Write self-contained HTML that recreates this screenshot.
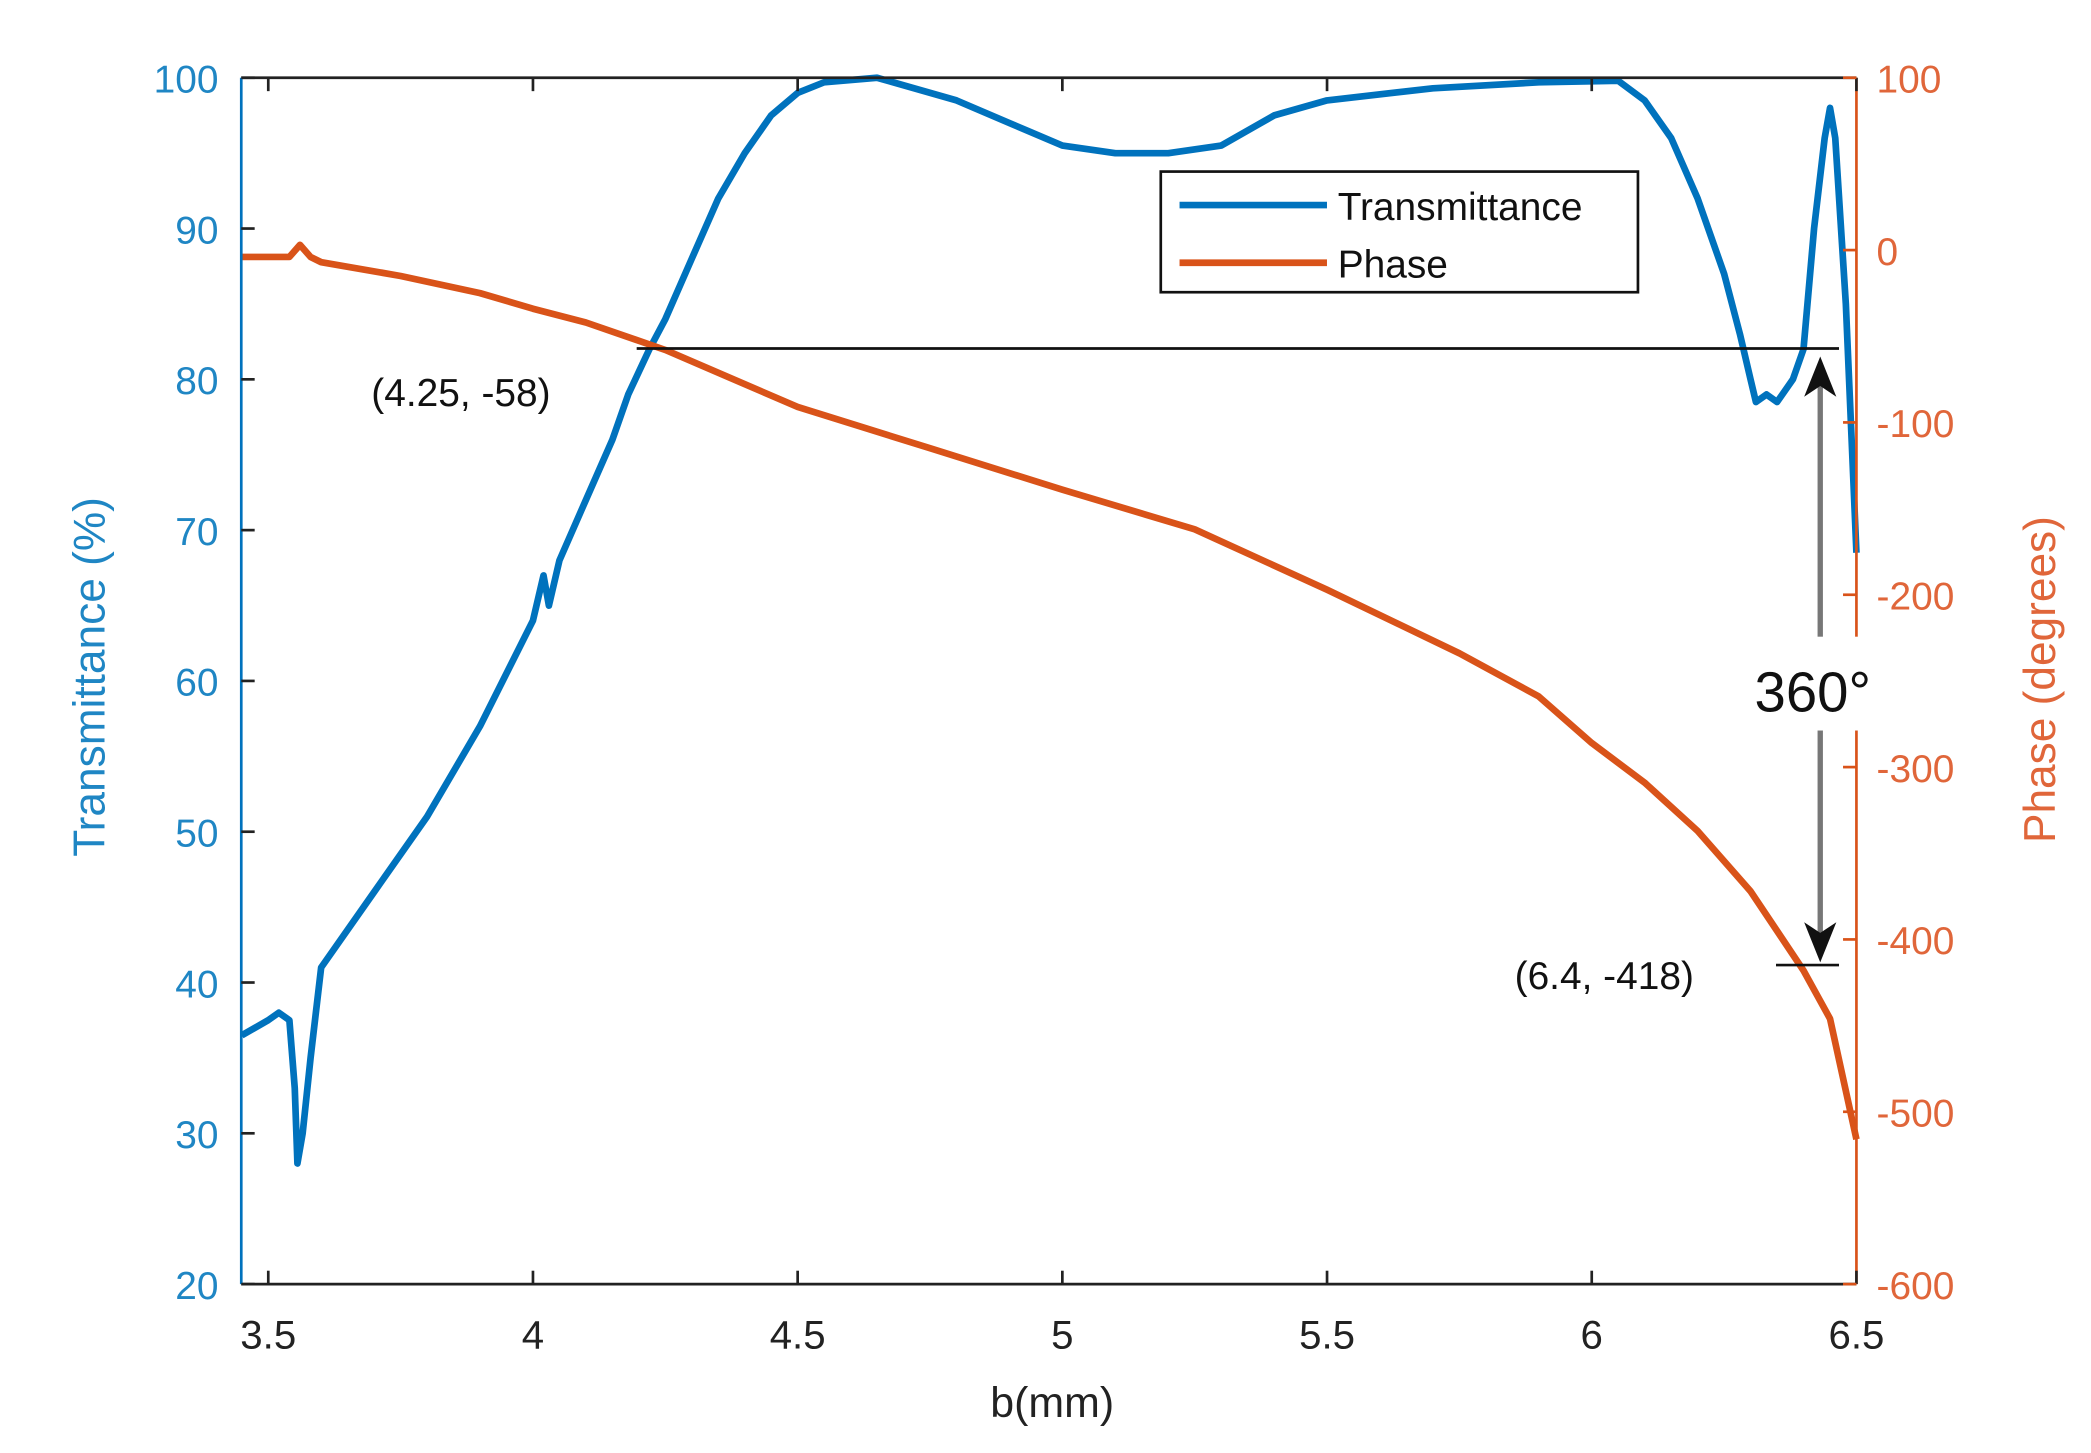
<!DOCTYPE html>
<html><head><meta charset="utf-8"><style>
html,body{margin:0;padding:0;background:#fff;}
svg{display:block;font-family:"Liberation Sans",sans-serif;}
</style></head><body>
<svg id="chart" width="2091" height="1453" viewBox="0 0 1560 1084" preserveAspectRatio="none" xmlns="http://www.w3.org/2000/svg">
<g id="g"></g>
</svg>
<script>
const xTicks=[3.5,4,4.5,5,5.5,6,6.5];
const xTickLabels=["3.5","4","4.5","5","5.5","6","6.5"];
const yLeftTicks=[20,30,40,50,60,70,80,90,100];
const yRightTicks=[-600,-500,-400,-300,-200,-100,0,100];
const transX=[3.45,3.5,3.52,3.54,3.55,3.555,3.565,3.58,3.6,3.7,3.8,3.9,4.0,4.02,4.03,4.05,4.1,4.15,4.18,4.2,4.22,4.25,4.3,4.35,4.4,4.45,4.5,4.55,4.65,4.8,4.9,5.0,5.1,5.2,5.3,5.4,5.5,5.7,5.9,6.05,6.1,6.15,6.2,6.25,6.28,6.3,6.31,6.33,6.35,6.38,6.4,6.42,6.44,6.45,6.46,6.48,6.5];
const transY=[36.5,37.5,38,37.5,33,28,30,35,41,46,51,57,64,67,65,68,72,76,79,80.5,82,84,88,92,95,97.5,99,99.7,100,98.5,97,95.5,95,95,95.5,97.5,98.5,99.3,99.7,99.8,98.5,96,92,87,83,80,78.5,79,78.5,80,82,90,96,98,96,85,68.5];
const phaseX=[3.45,3.54,3.56,3.58,3.6,3.75,3.9,4.0,4.1,4.25,4.5,4.75,5.0,5.25,5.5,5.75,5.9,6.0,6.1,6.2,6.3,6.4,6.45,6.5];
const phaseY=[-4,-4,3,-4,-7,-15,-25,-34,-42,-58,-91,-115,-139,-162,-197,-234,-259,-286,-309,-337,-372,-418,-446,-516];

const L=180,R=1385,T=58,B=958,XMIN=3.449,XMAX=6.5;
const sx=v=>L+(v-XMIN)/(XMAX-XMIN)*(R-L);
const syL=v=>B-(v-20)/80*(B-T);
const syR=v=>B-(v+600)/700*(B-T);
const NS="http://www.w3.org/2000/svg";
const g=document.getElementById('g');
function el(tag,attrs,text){const e=document.createElementNS(NS,tag);for(const k in attrs)e.setAttribute(k,attrs[k]);if(text!==undefined)e.textContent=text;g.appendChild(e);return e;}
const BLUE="#0072BD",ORANGE="#D95319",BLUET="#1f86c4",ORT="#e0663a";

let d=transX.map((x,i)=>(i?'L':'M')+sx(x).toFixed(1)+','+syL(transY[i]).toFixed(1)).join('');
let p=el('path',{d:d,fill:'none',stroke:BLUE,'stroke-width':5,'stroke-linejoin':'round'});


d=phaseX.map((x,i)=>(i?'L':'M')+sx(x).toFixed(1)+','+syR(phaseY[i]).toFixed(1)).join('');
p=el('path',{d:d,fill:'none',stroke:ORANGE,'stroke-width':5,'stroke-linejoin':'round'});



let a=el('line',{x1:L,y1:T,x2:R,y2:T,stroke:'#222','stroke-width':2});


a=el('line',{x1:L,y1:B,x2:R,y2:B,stroke:'#222','stroke-width':2});


a=el('line',{x1:L,y1:T,x2:L,y2:B,stroke:BLUE,'stroke-width':2});


a=el('line',{x1:R,y1:T,x2:R,y2:B,stroke:ORANGE,'stroke-width':2});



xTicks.forEach((v,i)=>{
  const x=sx(v);
  el('line',{x1:x,y1:B,x2:x,y2:B-10,stroke:'#222','stroke-width':2});
  el('line',{x1:x,y1:T,x2:x,y2:T+10,stroke:'#222','stroke-width':2});
  const t=el('text',{x:x,y:1006,'font-size':30,'text-anchor':'middle',fill:'#222'},xTickLabels[i]);
  
  
});
yLeftTicks.forEach(v=>{
  const y=syL(v);
  el('line',{x1:L,y1:y,x2:L+10,y2:y,stroke:'#222','stroke-width':2});
  const t=el('text',{x:163,y:y+11,'font-size':29,'text-anchor':'end',fill:BLUET},String(v));
  
  
});
yRightTicks.forEach(v=>{
  const y=syR(v);
  el('line',{x1:R,y1:y,x2:R-10,y2:y,stroke:ORANGE,'stroke-width':2});
  const t=el('text',{x:1400,y:y+11,'font-size':29,'text-anchor':'start',fill:ORT},String(v));
  
  
});
let t=el('text',{x:785,y:1057,'font-size':32,'text-anchor':'middle',fill:'#222'},'b(mm)');


t=el('text',{x:0,y:0,'font-size':33,'text-anchor':'middle',fill:BLUET,transform:'translate(78,505) rotate(-90)'},'Transmittance (%)');


t=el('text',{x:0,y:0,'font-size':33,'text-anchor':'middle',fill:ORT,transform:'translate(1533,507) rotate(-90)'},'Phase (degrees)');



a=el('line',{x1:475,y1:260,x2:1372,y2:260,stroke:'#111','stroke-width':2});


t=el('text',{x:277,y:303,'font-size':29,fill:'#111'},'(4.25, -58)');


a=el('line',{x1:1325,y1:720,x2:1372,y2:720,stroke:'#111','stroke-width':2});


t=el('text',{x:1130,y:738,'font-size':29,fill:'#111'},'(6.4, -418)');


a=el('line',{x1:1358,y1:285,x2:1358,y2:705,stroke:'#777','stroke-width':4});


el('path',{d:'M1358,266 L1346,296 L1358,288 L1370,296 Z',fill:'#111'});
el('path',{d:'M1358,718 L1346,688 L1358,696 L1370,688 Z',fill:'#111'});
el('rect',{x:1308,y:475,width:98,height:70,fill:'#fff'});
t=el('text',{x:1309,y:531,'font-size':42,fill:'#111'},'360°');



const lg=el('rect',{x:866,y:128,width:356,height:90,fill:'#fff',stroke:'#111','stroke-width':2});


el('line',{x1:880,y1:153,x2:990,y2:153,stroke:BLUE,'stroke-width':5});
t=el('text',{x:998,y:164,'font-size':29,fill:'#111'},'Transmittance');


el('line',{x1:880,y1:196,x2:990,y2:196,stroke:ORANGE,'stroke-width':5});
t=el('text',{x:998,y:207,'font-size':29,fill:'#111'},'Phase');


</script>
</body></html>
